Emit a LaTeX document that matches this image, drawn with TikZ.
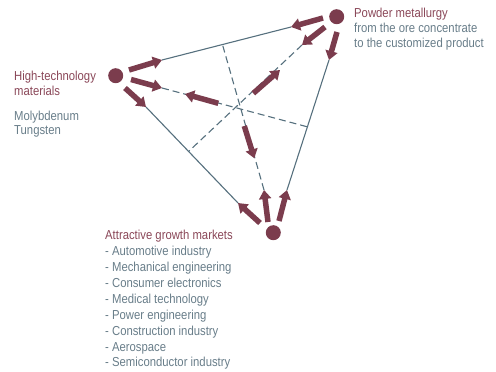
\documentclass[tikz,border=0pt]{standalone}
\usepackage{fontspec}
\setmainfont{Liberation Sans}[FakeStretch=0.87]
\usetikzlibrary{arrows.meta}
\definecolor{maroon}{HTML}{7B3C4D}
\definecolor{titlered}{HTML}{8A4758}
\definecolor{textgray}{HTML}{687D89}
\definecolor{slate}{HTML}{56707E}
\begin{document}
\begin{tikzpicture}[x=1pt,y=-1pt,
  edge/.style={line width=1.1pt, draw=slate},
  dashedge/.style={edge, dash pattern=on 7pt off 4pt},
  bigarrow/.style={line width=5.5pt, draw=maroon, -{Triangle[width=12pt,length=9pt]}},
  dot/.style={circle, fill=maroon, minimum size=15pt, inner sep=0pt},
  ttl/.style={anchor=base west, inner sep=0pt, text=titlered, font=\fontsize{13}{15}\selectfont},
  txt/.style={ttl, text=textgray}]
\useasboundingbox (0,0) rectangle (496,372);
% triangle corner points
\coordinate (tl) at (162,60);
\coordinate (tr) at (291,27);
\coordinate (rt) at (329,60);
\coordinate (rb) at (287,190);
\coordinate (lt) at (146,107);
\coordinate (lb) at (238,203);
% dashed line end points
\coordinate (da1) at (162,88);
\coordinate (da2) at (308,127);
\coordinate (db1) at (302,45);
\coordinate (db2) at (188.3,151.7);
\coordinate (dc1) at (264,190);
\coordinate (dc2) at (222,43);
% edges
\draw[edge] (tl) -- (tr);
\draw[edge] (rt) -- (rb);
\draw[edge] (lt) -- (lb);
\draw[dashedge] (da1) -- (da2);
\draw[dashedge] (db1) -- (db2);
\draw[dashedge] (dc1) -- (dc2);
% dots
\node[dot] (A) at (115.7,75.7) {};
\node[dot] (B) at (336.7,16.7) {};
\node[dot] (C) at (273.3,232.7) {};
% arrow tails
\coordinate (a1s) at (129,70);
\coordinate (a2s) at (131,79.5);
\coordinate (a3s) at (125,88);
\coordinate (b1s) at (323,18);
\coordinate (b2s) at (325,27);
\coordinate (b3s) at (337,32);
\coordinate (c1s) at (260,223);
\coordinate (c2s) at (268,222);
\coordinate (c3s) at (279,221);
% middle arrows
\coordinate (ma1) at (218.3,103.3);
\coordinate (ma2) at (185,94);
\coordinate (mb1) at (253.3,93.3);
\coordinate (mb2) at (280,70);
\coordinate (mc1) at (244.3,126);
\coordinate (mc2) at (254.3,158.3);
% arrows
\draw[bigarrow] (a1s) -- (tl);
\draw[bigarrow] (a2s) -- (da1);
\draw[bigarrow] (a3s) -- (lt);
\draw[bigarrow] (b1s) -- (tr);
\draw[bigarrow] (b2s) -- (db1);
\draw[bigarrow] (b3s) -- (rt);
\draw[bigarrow] (c1s) -- (lb);
\draw[bigarrow] (c2s) -- (dc1);
\draw[bigarrow] (c3s) -- (rb);
\draw[bigarrow] (ma1) -- (ma2);
\draw[bigarrow] (mb1) -- (mb2);
\draw[bigarrow] (mc1) -- (mc2);
% texts
\node[ttl] (p1) at (354,17.3) {Powder metallurgy};
\node[txt] (p2) at (354,32.6) {from the ore concentrate};
\node[txt] (p3) at (354,47.9) {to the customized product};
\node[ttl] (h1) at (14,80.7) {High-technology};
\node[ttl] (h2) at (14,95.3) {materials};
\node[txt] (h3) at (14,120) {Molybdenum};
\node[txt] (h4) at (14,134.5) {Tungsten};
\node[ttl] (m0) at (105,239) {Attractive growth markets};
\node[txt] (m1) at (105,255) {- Automotive industry};
\node[txt] (m2) at (105,271) {- Mechanical engineering};
\node[txt] (m3) at (105,287) {- Consumer electronics};
\node[txt] (m4) at (105,303) {- Medical technology};
\node[txt] (m5) at (105,319) {- Power engineering};
\node[txt] (m6) at (105,335) {- Construction industry};
\node[txt] (m7) at (105,351) {- Aerospace};
\node[txt] (m8) at (105,366.7) {- Semiconductor industry};
\end{tikzpicture}
\end{document}
